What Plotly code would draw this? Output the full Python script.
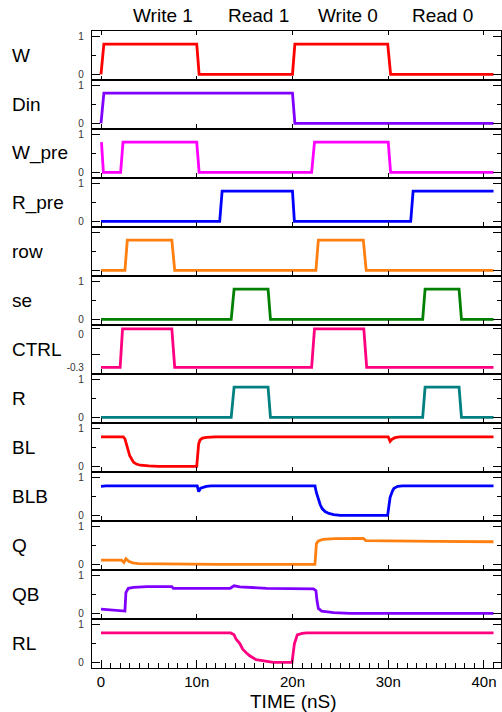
import plotly.graph_objects as go
from plotly.subplots import make_subplots

# ---------------- data (time in ns, voltage in V) ----------------
SIGNALS = ["W", "Din", "W_pre", "R_pre", "row", "se", "CTRL", "R", "BL", "BLB", "Q", "QB", "RL"]
COLORS = ["#ff0000", "#8000ff", "#ff00ff", "#0000ff", "#ff8010", "#008000", "#ff0080",
          "#008080", "#ff0000", "#0000ff", "#ff8010", "#8000ff", "#ff0080"]
PHASES = ["Write 1", "Read 1", "Write 0", "Read 0"]
X_TICKS = [0, 10, 20, 30, 40]
X_TICKTEXT = ["0", "10n", "20n", "30n", "40n"]

W_t = [0, 0.3, 10.0, 10.25, 20.0, 20.25, 29.95, 30.25, 41]
W_v = [0, 0.8, 0.8, 0, 0, 0.8, 0.8, 0, 0]

Din_t = [0, 0.3, 20.0, 20.25, 41]
Din_v = [0, 0.8, 0.8, 0, 0]

Wpre_t = [0.05, 0.25, 2.05, 2.3, 10.0, 10.25, 22.0, 22.3, 30.0, 30.25, 41]
Wpre_v = [0.8, 0, 0, 0.8, 0.8, 0, 0, 0.8, 0.8, 0, 0]

Rpre_t = [0, 12.4, 12.65, 20.0, 20.2, 32.35, 32.6, 41]
Rpre_v = [0, 0, 0.8, 0.8, 0, 0, 0.8, 0.8]

row_t = [0, 2.5, 2.75, 7.4, 7.7, 22.45, 22.7, 27.4, 27.7, 41]
row_v = [0, 0, 0.8, 0.8, 0, 0, 0.8, 0.8, 0, 0]

se_t = [0, 13.6, 13.9, 17.45, 17.7, 33.6, 33.85, 37.4, 37.65, 41]
se_v = [0, 0, 0.8, 0.8, 0, 0, 0.8, 0.8, 0, 0]

CTRL_t = [0, 2.0, 2.25, 7.4, 7.7, 22.0, 22.3, 27.45, 27.75, 41]
CTRL_v = [-0.3, -0.3, 0, 0, -0.3, -0.3, 0, 0, -0.3, -0.3]

R_t = [0, 13.6, 13.9, 17.45, 17.7, 33.6, 33.85, 37.4, 37.65, 41]
R_v = [0, 0, 0.8, 0.8, 0, 0, 0.8, 0.8, 0, 0]

BL_t = [0, 2.33, 2.5, 2.67, 2.85, 3.0, 3.2, 3.4, 3.7, 4.1, 5, 6, 10.0, 10.1, 10.2, 10.35,
        10.6, 11.0, 12, 22.5, 22.9, 23.3, 30.0, 30.2, 30.4, 30.7, 31.2, 41]
BL_v = [0.78, 0.78, 0.73, 0.6, 0.42, 0.28, 0.18, 0.11, 0.06, 0.03, 0.01, 0.0, 0.0, 0.3, 0.6, 0.7,
        0.75, 0.77, 0.78, 0.78, 0.77, 0.78, 0.78, 0.66, 0.72, 0.76, 0.78, 0.78]

BLB_t = [0, 0.5, 10.05, 10.2, 10.4, 10.7, 11.0, 11.5, 22.35, 22.5, 22.7, 22.9, 23.1, 23.4,
         23.8, 24.3, 25, 29.94, 30.1, 30.2, 30.45, 30.6, 31.0, 31.5, 41]
BLB_v = [0.77, 0.78, 0.78, 0.63, 0.72, 0.75, 0.77, 0.78, 0.78, 0.6, 0.4, 0.28, 0.18, 0.1,
         0.05, 0.02, 0.0, 0.0, 0.3, 0.48, 0.65, 0.72, 0.77, 0.78, 0.78]

Q_t = [0, 2.15, 2.4, 2.6, 2.9, 3.3, 3.9, 6.8, 12, 22.35, 22.5, 22.7, 23.2, 24.4, 27.4,
       27.65, 30, 35, 41]
Q_v = [0.11, 0.11, 0.05, 0.15, 0.08, 0.04, 0.02, 0.01, 0.0, 0.0, 0.55, 0.62, 0.66, 0.68, 0.69,
       0.63, 0.62, 0.61, 0.6]

QB_t = [0, 2.3, 2.5, 2.6, 2.85, 3.4, 4.8, 7.4, 7.55, 13.5, 13.9, 14.5, 17.3, 22.2, 22.45,
        22.55, 22.7, 23.05, 24.3, 26, 41]
QB_v = [0.11, 0.08, 0.06, 0.55, 0.665, 0.69, 0.71, 0.71, 0.665, 0.665, 0.73, 0.70, 0.665,
        0.65, 0.6, 0.36, 0.13, 0.06, 0.02, 0.0, 0.0]

RL_t = [0, 13.55, 13.9, 14.1, 14.5, 14.8, 15.2, 15.5, 16.2, 17.3, 18, 19.95, 20.2, 20.5,
        21.0, 21.5, 41]
RL_v = [0.78, 0.78, 0.73, 0.62, 0.5, 0.35, 0.25, 0.18, 0.07, 0.02, 0.0, 0.0, 0.49, 0.73,
        0.77, 0.78, 0.78]

SERIES = [(W_t, W_v), (Din_t, Din_v), (Wpre_t, Wpre_v), (Rpre_t, Rpre_v), (row_t, row_v),
          (se_t, se_v), (CTRL_t, CTRL_v), (R_t, R_v), (BL_t, BL_v), (BLB_t, BLB_v),
          (Q_t, Q_v), (QB_t, QB_v), (RL_t, RL_v)]

# ---------------- figure ----------------
FONT = "Liberation Sans, Arial, sans-serif"
N = len(SIGNALS)
W_PX, H_PX = 502, 712
ML, MR, MT, MB = 92, 1, 31, 44
PW, PH = W_PX - ML - MR, H_PX - MT - MB

fig = make_subplots(rows=N, cols=1, shared_xaxes=True, vertical_spacing=0)

for i, ((t, v), name, col) in enumerate(zip(SERIES, SIGNALS, COLORS), start=1):
    fig.add_trace(go.Scatter(x=t, y=v, mode="lines", name=name,
                             line=dict(color=col, width=2.8), showlegend=False),
                  row=i, col=1)

fig.update_xaxes(range=[-0.94, 41.78], showline=True, linecolor="black", linewidth=1.2,
                 mirror=True, ticks="inside", ticklen=5, tickwidth=1.2, tickcolor="black",
                 tickvals=X_TICKS, showgrid=False, zeroline=False, showticklabels=False)
fig.update_xaxes(mirror="ticks", ticklen=4, row=1, col=1)
fig.update_xaxes(showticklabels=True, ticktext=X_TICKTEXT, ticklen=8,
                 tickfont=dict(size=15, color="black", family=FONT), ticklabelstandoff=0,
                 minor=dict(dtick=1, tick0=0, ticks="inside", ticklen=5, tickcolor="black",
                            tickwidth=1.2, showgrid=False),
                 row=N, col=1)

fig.update_yaxes(range=[-0.15, 1.15], showline=True, linecolor="black", linewidth=1.2,
                 mirror="ticks", ticks="inside", ticklen=8, tickwidth=1.2, tickcolor="black",
                 tickvals=[0, 1], ticktext=["0", "1"], showgrid=False, zeroline=False,
                 tickfont=dict(size=10, color="#333333", family=FONT), ticklabelstandoff=5,
                 minor=dict(tickvals=[0.5], ticks="inside", ticklen=4, tickcolor="black",
                            tickwidth=1.2, showgrid=False))
# row has no tick labels
fig.update_yaxes(showticklabels=False, row=SIGNALS.index("row") + 1, col=1)
# CTRL is a -0.3 .. 0 signal
fig.update_yaxes(range=[-0.352, 0.031], tickvals=[-0.047, -0.3], ticktext=["0", "-0.3"],
                 ticklen=0,
                 minor=dict(tickvals=[0, -0.2], ticks="inside", ticklen=8, tickcolor="black",
                            tickwidth=1.2, showgrid=False),
                 row=SIGNALS.index("CTRL") + 1, col=1)

annotations = []
for i, name in enumerate(SIGNALS, start=1):
    yref = "y domain" if i == 1 else f"y{i} domain"
    annotations.append(dict(text=name, xref="paper", x=(10 - ML) / PW, xanchor="left",
                            yref=yref, y=0.5, yanchor="middle", showarrow=False,
                            font=dict(size=19, color="black", family=FONT)))
phase_px = [163, 258, 347.5, 442.5]
for name, px in zip(PHASES, phase_px):
    annotations.append(dict(text=name, xref="paper", x=(px - ML) / PW, xanchor="center",
                            yref="paper", y=1 + (MT - 15) / PH, yanchor="middle",
                            showarrow=False, font=dict(size=19, color="black", family=FONT)))
annotations.append(dict(text="TIME (nS)", xref="paper", x=(293 - ML) / PW, xanchor="center",
                        yref="paper", y=-(701 - (H_PX - MB)) / PH, yanchor="middle",
                        showarrow=False, font=dict(size=19, color="black", family=FONT)))

fig.update_layout(width=W_PX, height=H_PX, margin=dict(l=ML, r=MR, t=MT, b=MB),
                  paper_bgcolor="white", plot_bgcolor="white", showlegend=False,
                  font=dict(family=FONT), annotations=annotations)

fig.write_html("out.html", config={"displayModeBar": False},
               post_script="document.body.style.margin='0';")
